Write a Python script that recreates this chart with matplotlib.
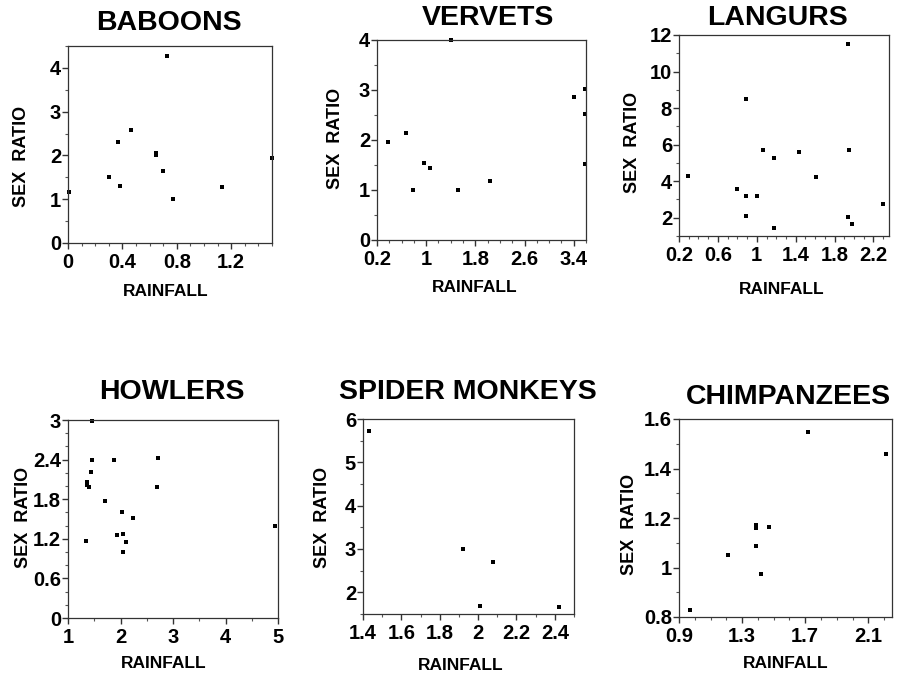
import matplotlib
matplotlib.use('Agg')
import matplotlib.pyplot as plt
from matplotlib.ticker import MultipleLocator, FixedLocator, FuncFormatter

plt.rcParams['font.family'] = ['Liberation Sans', 'DejaVu Sans']
plt.rcParams['font.weight'] = 'bold'

# data (rainfall, sex ratio)
baboons_x = [0.01, 0.30, 0.37, 0.38, 0.46, 0.65, 0.65, 0.70, 0.73, 0.77, 1.13, 1.50]
baboons_y = [1.16, 1.50, 2.30, 1.31, 2.58, 2.05, 2.01, 1.64, 4.27, 1.01, 1.28, 1.94]

vervets_x = [0.38, 0.67, 0.78, 0.96, 1.06, 1.41, 1.52, 2.04, 3.40, 3.58, 3.58, 3.58]
vervets_y = [1.95, 2.13, 0.99, 1.54, 1.43, 4.00, 0.99, 1.18, 2.85, 3.01, 2.51, 1.51]

langurs_x = [0.29, 0.80, 0.89, 0.89, 0.89, 1.00, 1.06, 1.18, 1.18, 1.43, 1.61, 1.94, 1.95, 1.94, 1.98, 2.30]
langurs_y = [4.28, 3.59, 8.50, 3.20, 2.11, 3.20, 5.70, 5.28, 1.42, 5.59, 4.21, 11.53, 5.70, 2.02, 1.64, 2.73]

howlers_x = [1.35, 1.36, 1.37, 1.40, 1.43, 1.45, 1.45, 1.70, 1.88, 1.94, 2.03, 2.04, 2.04, 2.11, 2.23, 2.70, 2.72, 4.95]
howlers_y = [1.16, 2.01, 2.06, 1.99, 2.21, 2.39, 2.98, 1.77, 2.39, 1.26, 1.61, 1.28, 1.00, 1.15, 1.51, 1.99, 2.42, 1.39]

spider_x = [1.43, 1.92, 2.08, 2.01, 2.42]
spider_y = [5.72, 3.01, 2.69, 1.69, 1.66]

chimps_x = [0.97, 1.21, 1.39, 1.39, 1.39, 1.42, 1.47, 1.72, 2.21]
chimps_y = [0.83, 1.05, 1.17, 1.16, 1.085, 0.974, 1.165, 1.547, 1.457]

W, H = 905, 677
fig = plt.figure(figsize=(W / 100, H / 100), dpi=100)

# name, x, y, box px (left, right, top, bottom), xlim, ylim, x majors, x minor, y majors, y minor,
# title centre, ylabel centre, xlabel centre
panels = [
    ('BABOONS', baboons_x, baboons_y, (68, 272, 46, 243), (0, 1.5), (0, 4.5),
     [0, 0.4, 0.8, 1.2], 0.1, [0, 1, 2, 3, 4], 0.5, (169, 23), (21, 156), (166, 292)),
    ('VERVETS', vervets_x, vervets_y, (377, 586, 40, 240), (0.2, 3.6), (0, 4),
     [0.2, 1, 1.8, 2.6, 3.4], 0.2, [0, 1, 2, 3, 4], 0.5, (488, 18), (335, 138), (475, 288)),
    ('LANGURS', langurs_x, langurs_y, (679, 889, 35, 236), (0.2, 2.36), (1, 12),
     [0.2, 0.6, 1, 1.4, 1.8, 2.2], 0.1, [2, 4, 6, 8, 10, 12], 1, (777, 18), (632, 142), (782, 290)),
    ('HOWLERS', howlers_x, howlers_y, (68, 278, 420, 618), (1, 5), (0, 3),
     [1, 2, 3, 4, 5], 0.5, [0, 0.6, 1.2, 1.8, 2.4, 3], 0.2, (172, 392), (23, 517), (164, 663)),
    ('SPIDER MONKEYS', spider_x, spider_y, (363, 574, 419, 614), (1.4, 2.5), (1.5, 6),
     [1.4, 1.6, 1.8, 2, 2.2, 2.4], 0.1, [2, 3, 4, 5, 6], 0.5, (468, 392), (322, 517), (461, 665)),
    ('CHIMPANZEES', chimps_x, chimps_y, (679, 892, 419, 617), (0.9, 2.25), (0.8, 1.6),
     [0.9, 1.3, 1.7, 2.1], 0.1, [0.8, 1, 1.2, 1.4, 1.6], 0.1, (788, 397), (629, 524), (786, 663)),
]

fmt = FuncFormatter(lambda v, p: f'{round(v, 2):g}')

for (name, xs, ys, box, xl, yl, xmaj, xmin, ymaj, ymin, tpos, ylpos, xlpos) in panels:
    l, r, t, b = box
    ax = fig.add_axes([l / W, 1 - b / H, (r - l) / W, (b - t) / H])
    ax.scatter(xs, ys, s=7, marker='s', color='black', linewidths=0, clip_on=False)
    ax.set_xlim(*xl)
    ax.set_ylim(*yl)
    ax.xaxis.set_major_locator(FixedLocator(xmaj))
    ax.yaxis.set_major_locator(FixedLocator(ymaj))
    ax.xaxis.set_minor_locator(MultipleLocator(xmin))
    ax.yaxis.set_minor_locator(MultipleLocator(ymin))
    ax.xaxis.set_major_formatter(fmt)
    ax.yaxis.set_major_formatter(fmt)
    ax.tick_params(which='major', length=4, width=1, labelsize=14.5, pad=1, color='#333333')
    ax.tick_params(axis='x', which='major', pad=3.5)
    ax.tick_params(which='minor', length=2.5, width=0.8, color='#555555')
    for sp in ax.spines.values():
        sp.set_linewidth(0.9)
        sp.set_color('#333333')
    fig.text(tpos[0] / W, 1 - tpos[1] / H, name, ha='center', va='center',
             fontsize=20.5, fontweight='bold')
    fig.text(ylpos[0] / W, 1 - ylpos[1] / H, 'SEX  RATIO', ha='center', va='center',
             rotation=90, fontsize=13, fontweight='bold')
    fig.text(xlpos[0] / W, 1 - xlpos[1] / H, 'RAINFALL', ha='center', va='center',
             fontsize=12.5, fontweight='bold')

fig.savefig('out.png', dpi=100)
